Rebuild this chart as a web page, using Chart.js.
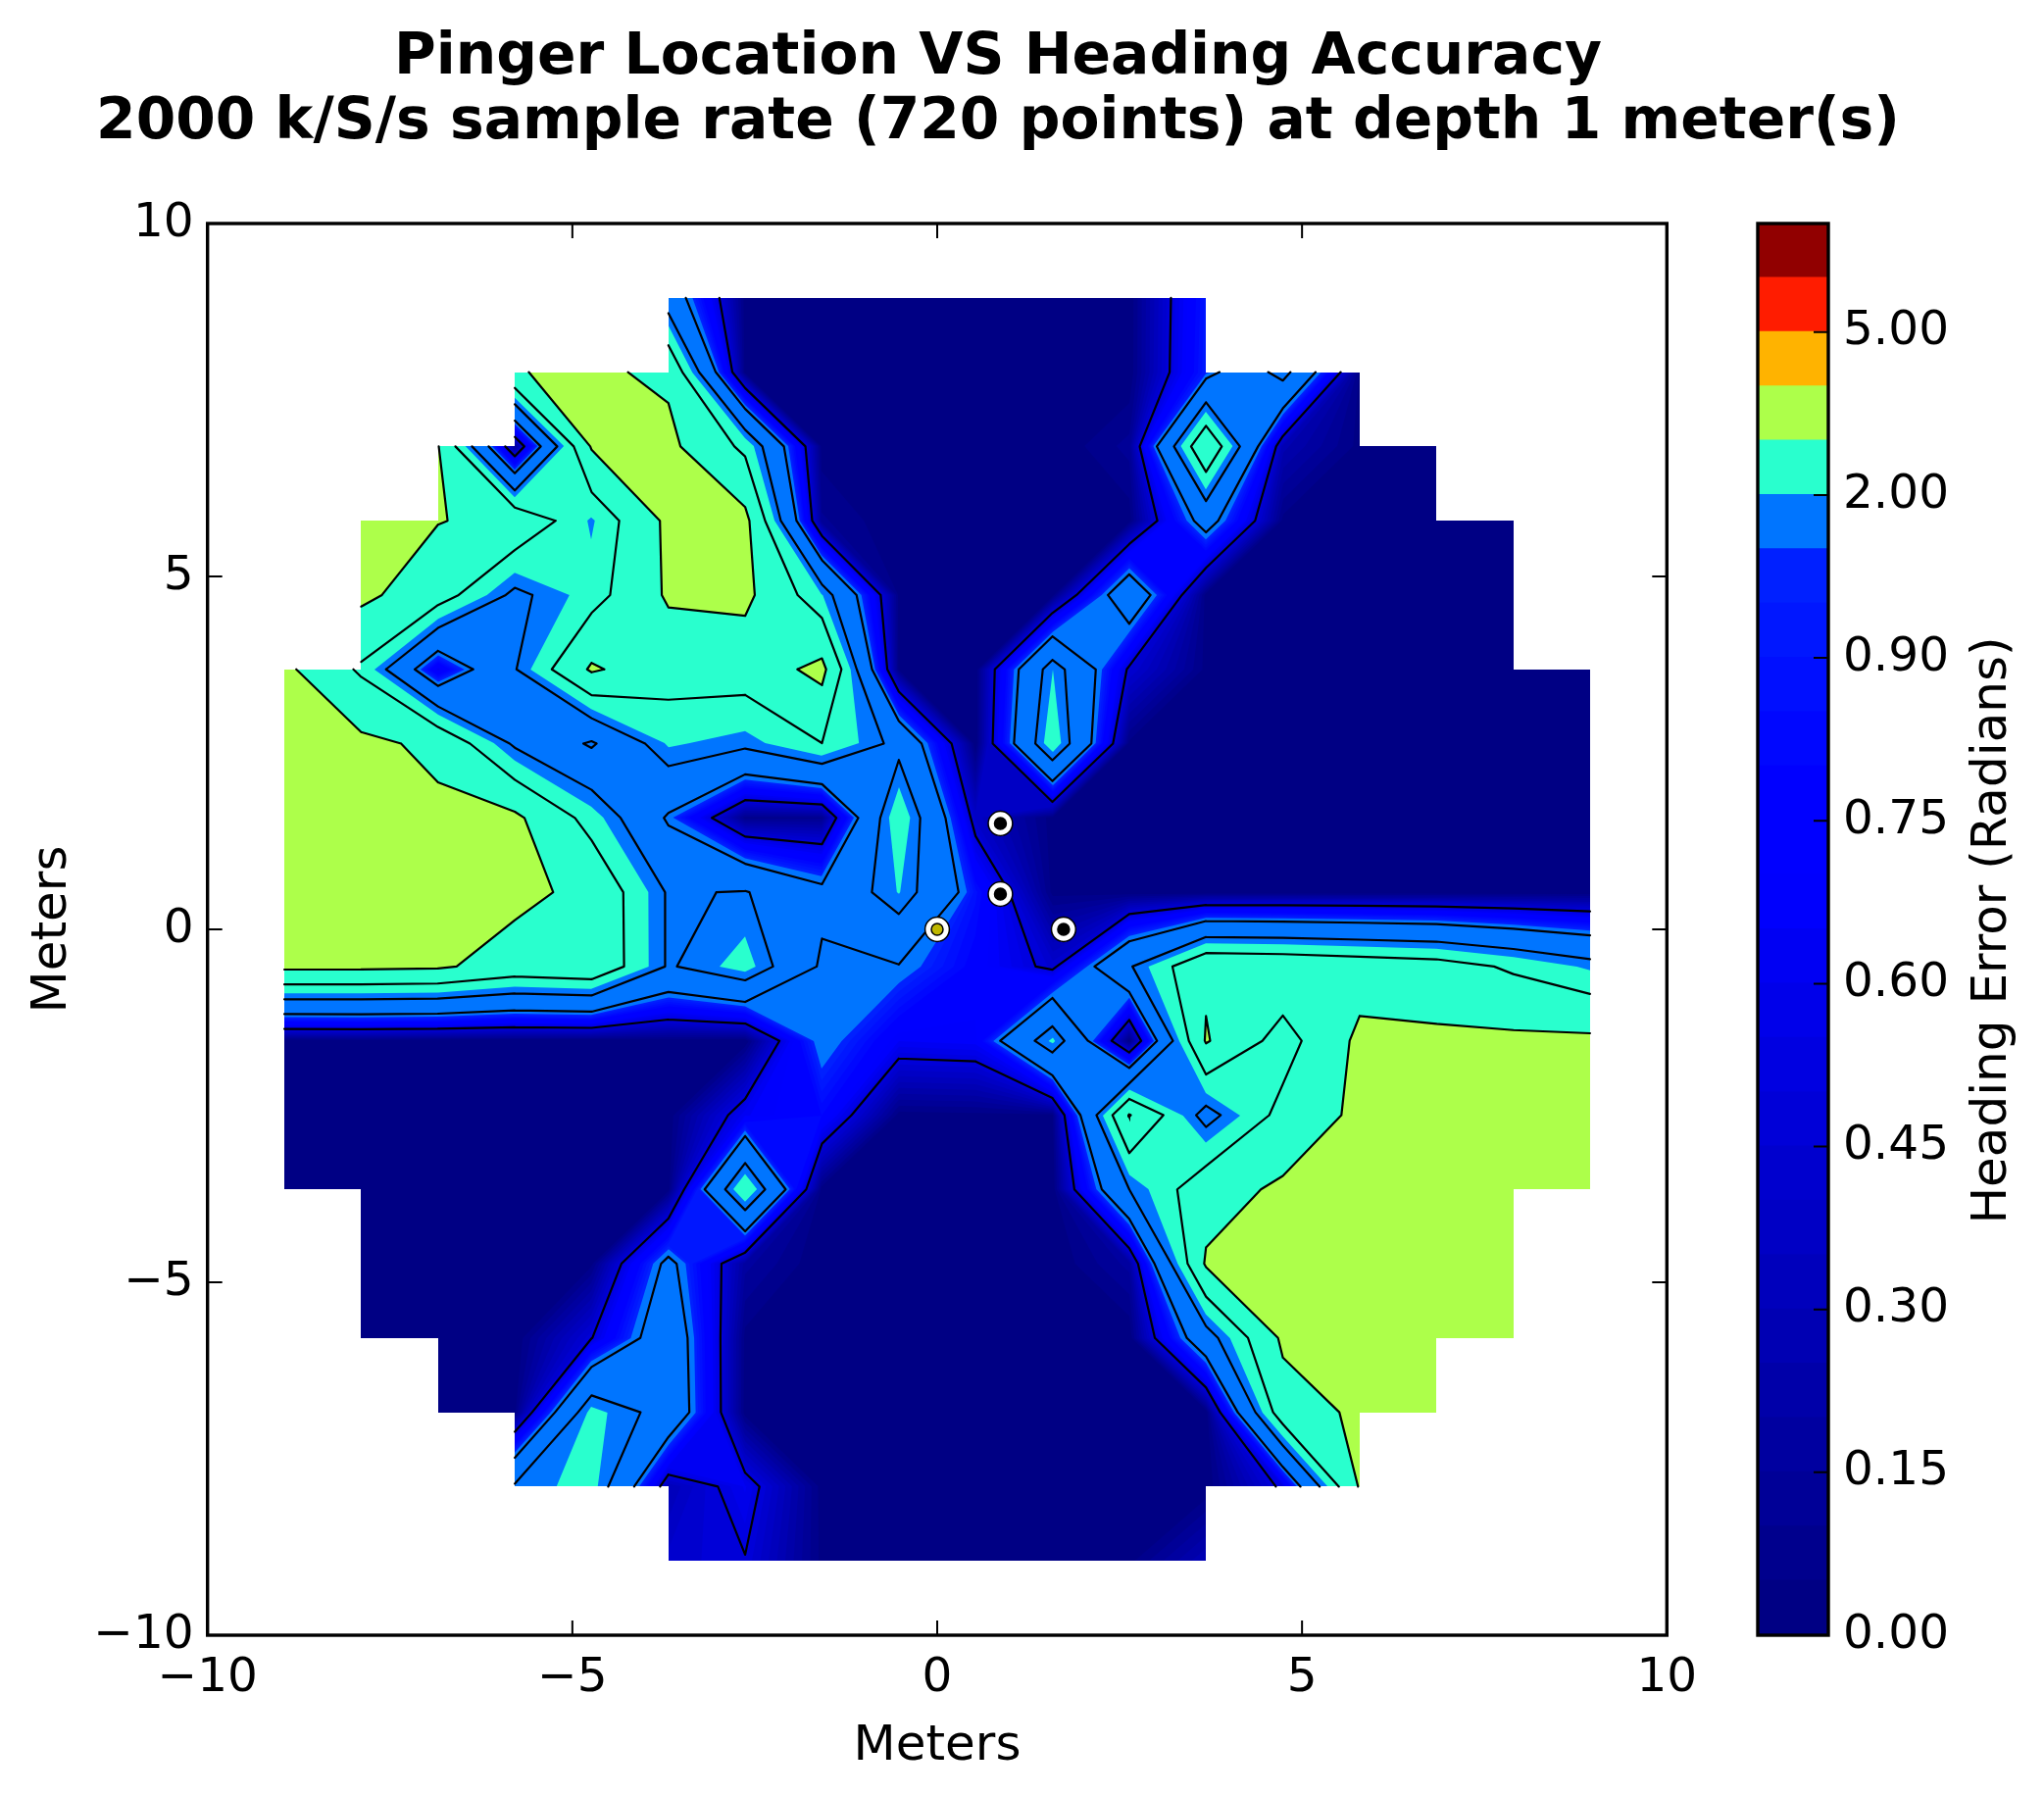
<!DOCTYPE html>
<html>
<head>
<meta charset="utf-8">
<title>Pinger Location VS Heading Accuracy</title>
<script src="https://cdn.jsdelivr.net/npm/chart.js@4"></script>
<style>
    html, body { margin: 0; padding: 0; background: #fff; }
    canvas { position: absolute; top: 0; }
    #field { left: 0; }
    #colorbar { left: 1700px; }
</style>
</head>
<body>
<canvas id="field" width="2036" height="1831"></canvas>
<canvas id="colorbar" width="385" height="1831"></canvas>
<script>
"use strict"

/* Grid, in meters */
const gridX = [-8.947, -7.895, -6.842, -5.789, -4.737, -3.684, -2.632, -1.579, -0.526,
    0.526, 1.579, 2.632, 3.684, 4.737, 5.789, 6.842, 7.895, 8.947];
const gridY = [8.947, 7.895, 6.842, 5.789, 4.737, 3.684, 2.632, 1.579, 0.526,
    -0.526, -1.579, -2.632, -3.684, -4.737, -5.789, -6.842, -7.895, -8.947];

/* Heading error in radians, one row per gridY, null outside the circle */
const n = null;
const row00 = [n, n, n, n, n, 1.45, .02, 0, 0, 0, 0, 0, .92, n, n, n, n, n];
const row01 = [n, n, n, 2.98, 3.09, 2.9, .02, 0, 0, 0, 0, 0, .95, 1.94, .03, n, n, n];
const row02 = [n, n, 3.03, .14, 3.05, 3.14, 2.25, .02, 0, 0, 0, .12, 2.92, .27, .03, 0, n, n];
const row03 = [n, 3.08, 3.02, 2.86, 1.95, 3.13, 3.17, .11, 0, 0, .02, .02, 1.33, .03, 0, 0, 0, n];
const row04 = [n, 3.13, 2.65, 1.63, 2.15, 3.08, 3.14, 2.02, .03, 0, .02, 1.55, .02, 0, 0, 0, 0, n];
const row05 = [3.13, 2.29, .62, 1.72, 3.08, 2.6, 2.64, 3.17, .03, 0, 2.0, .45, .03, 0, 0, 0, 0, 0];
const row06 = [3.14, 3.13, 2.88, 1.67, 1.06, 2.05, 1.87, 2.37, 1.6, 0, 2.25, .03, 0, 0, 0, 0, 0, 0];
const row07 = [3.14, 3.14, 3.11, 3.12, 2.17, 1.06, .07, .09, 2.28, .38, .02, 0, 0, 0, 0, 0, 0, 0];
const row08 = [3.14, 3.14, 3.14, 3.15, 2.85, 1.7, 1.78, 1.25, 2.02, .87, .03, 0, 0, 0, 0, 0, 0, 0];
const row09 = [3.13, 3.12, 3.08, 2.75, 2.87, 1.7, 2.15, 1.05, 1.1, .75, .43, 1.7, 2.9, 2.85, 2.74, 2.63, 2.29, 1.94];
const row10 = [0, .02, 0, 0, 0, .02, 0, 1.12, .65, .68, 2.07, .03, 3.05, 2.13, 3.13, 3.11, 3.12, 3.12];
const row11 = [0, 0, 0, 0, 0, .01, .64, .8, .02, .03, .03, 3.03, 1.56, 2.55, 3.14, 3.14, 3.14, 3.14];
const row12 = [0, 0, 0, 0, 0, .02, 2.36, .02, 0, 0, 0, 1.75, 2.75, 3.1, 3.13, 3.13, 3.13, 3.13];
const row13 = [n, 0, 0, 0, .03, 1.24, .17, 0, 0, 0, 0, .17, 3.07, 3.15, 3.14, 3.14, 3.14, n];
const row14 = [n, 0, 0, 0, .49, 1.49, .03, 0, 0, 0, 0, 0, 1.5, 3.1, 3.14, 3.14, 3.14, n];
const row15 = [n, n, 0, .03, 2.12, 1.54, .02, 0, 0, 0, 0, 0, 0, 2.72, 3.1, 3.13, n, n];
const row16 = [n, n, n, 1.82, 2.15, .3, .61, .02, 0, 0, 0, 0, 0, .55, 3.05, n, n, n];
const row17 = [n, n, n, n, n, .42, .49, .03, 0, 0, 0, .03, .3, n, n, n, n, n];
const headingError = [row00, row01, row02, row03, row04, row05, row06, row07, row08,
    row09, row10, row11, row12, row13, row14, row15, row16, row17];

/* Filled levels and the black contour levels */
const fillLevels = [0, .05, .1, .15, .2, .25, .3, .35, .4, .45, .5, .55, .6, .65, .7, .75, .8, .85, .9, .95, 1,
    2, 3, 4, 5, 6, 7];
const lineLevels = [.5, 1.125, 1.75, 2.375, 3];

/* Pinger and hydrophone markers */
const markerX = [0, .866, .866, 1.732];
const markerY = [0, .5, 1.5, 0];

/* Colorbar ticks, given as positions in fillLevels */
const colorbarTicks = [0, 3, 6, 9, 12, 15, 18, 21, 24];
const colorbarLabels = ["0.00", "0.15", "0.30", "0.45", "0.60", "0.75", "0.90", "2.00", "5.00"];

const fontFamily = "DejaVu Sans";
const plotLeft = 211.7, plotRight = 1700.3, plotTop = 228, plotBottom = 1668;


function jetChannel(points, v) {
    for (let i = 1; i < points.length; i++) {
        if (v <= points[i][0]) {
            let a = points[i - 1], b = points[i];
            return a[1] + (b[1] - a[1]) * (v - a[0]) / (b[0] - a[0]);
        }
    }
    return points[points.length - 1][1];
}

function jet(v) {
    let r = jetChannel([[0, 0], [.35, 0], [.66, 1], [.89, 1], [1, .5]], v);
    let g = jetChannel([[0, 0], [.125, 0], [.375, 1], [.64, 1], [.91, 0], [1, 0]], v);
    let b = jetChannel([[0, .5], [.11, 1], [.34, 1], [.65, 0], [1, 0]], v);
    return `rgb(${Math.round(r * 255)},${Math.round(g * 255)},${Math.round(b * 255)})`;
}

let bandColors = [];
for (let i = 0; i < fillLevels.length - 1; i++) {
    let middle = (fillLevels[i] + fillLevels[i + 1]) / 2;
    bandColors.push(jet(Math.min(middle / 6.25, .985)));
}


function cellCorners(r, c) {
    let corners = [
        { x: gridX[c], y: gridY[r], v: headingError[r][c] },
        { x: gridX[c + 1], y: gridY[r], v: headingError[r][c + 1] },
        { x: gridX[c + 1], y: gridY[r + 1], v: headingError[r + 1][c + 1] },
        { x: gridX[c], y: gridY[r + 1], v: headingError[r + 1][c] },
    ];
    return corners.some(p => p.v === null) ? null : corners;
}

function crossing(a, b, level) {
    let t = (level - a.v) / (b.v - a.v);
    return { x: a.x + (b.x - a.x) * t, y: a.y + (b.y - a.y) * t };
}

function isSaddle(corners, level) {
    let high = corners.map(p => p.v >= level);
    return high[0] === high[2] && high[1] === high[3] && high[0] !== high[1];
}

function cellCentre(corners) {
    return (corners[0].v + corners[1].v + corners[2].v + corners[3].v) / 4;
}

/* The parts of a cell at or above a level: two pieces when a saddle has a low centre */
function clipCell(corners, level) {
    if (isSaddle(corners, level) && cellCentre(corners) < level) {
        let first = corners[0].v >= level ? 0 : 1;
        return [first, first + 2].map(i => {
            let p = corners[i], next = corners[(i + 1) % 4], prev = corners[(i + 3) % 4];
            return [p, crossing(p, next, level), crossing(prev, p, level)];
        });
    }
    let out = [];
    corners.forEach((a, i) => {
        let b = corners[(i + 1) % 4];
        if (a.v >= level) out.push(a);
        if ((a.v >= level) !== (b.v >= level)) out.push(crossing(a, b, level));
    });
    return out.length > 2 ? [out] : [];
}

/* Marching squares: the contour of one level as points with gaps between the pieces */
function contourPoints(level) {
    let points = [];
    const gap = { x: NaN, y: NaN };
    for (let r = 0; r < gridY.length - 1; r++) {
        for (let c = 0; c < gridX.length - 1; c++) {
            let corners = cellCorners(r, c);
            if (!corners) continue;
            let hits = [];
            corners.forEach((a, i) => {
                let b = corners[(i + 1) % 4];
                if ((a.v >= level) !== (b.v >= level)) hits.push(crossing(a, b, level));
            });
            if (hits.length === 2) {
                points.push(hits[0], hits[1], gap);
            } else if (hits.length === 4) {
                let sameAsFirst = (cellCentre(corners) >= level) === (corners[0].v >= level);
                let s = sameAsFirst ? 0 : 1;
                points.push(hits[s], hits[(s + 1) % 4], gap);
                points.push(hits[(s + 2) % 4], hits[(s + 3) % 4], gap);
            }
        }
    }
    return points;
}


const contourFill = {
    id: "contourFill",
    beforeDatasetsDraw(chart) {
        const ctx = chart.ctx, xs = chart.scales.x, ys = chart.scales.y;
        // cell edges sit on whole pixels so the stacked bands leave no fringe at the mask
        const pixelX = v => gridX.includes(v) ? Math.round(xs.getPixelForValue(v)) : xs.getPixelForValue(v);
        const pixelY = v => gridY.includes(v) ? Math.round(ys.getPixelForValue(v)) : ys.getPixelForValue(v);
        ctx.save();
        bandColors.forEach((color, k) => {
            ctx.beginPath();
            for (let r = 0; r < gridY.length - 1; r++) {
                for (let c = 0; c < gridX.length - 1; c++) {
                    let corners = cellCorners(r, c);
                    if (!corners) continue;
                    clipCell(corners, fillLevels[k]).forEach(poly => {
                        poly.forEach((p, i) => {
                            if (i === 0) ctx.moveTo(pixelX(p.x), pixelY(p.y));
                            else ctx.lineTo(pixelX(p.x), pixelY(p.y));
                        });
                        ctx.closePath();
                    });
                }
            }
            ctx.fillStyle = color;
            ctx.fill();
        });
        ctx.restore();
    }
};

const fieldFrame = {
    id: "fieldFrame",
    afterDatasetsDraw(chart) {
        const ctx = chart.ctx, area = chart.chartArea;
        ctx.save();
        ctx.strokeStyle = "#000";
        ctx.lineWidth = 2;
        ctx.beginPath();
        chart.scales.x.ticks.forEach(t => {
            let px = chart.scales.x.getPixelForValue(t.value);
            ctx.moveTo(px, area.top); ctx.lineTo(px, area.top + 15);
            ctx.moveTo(px, area.bottom); ctx.lineTo(px, area.bottom - 15);
        });
        chart.scales.y.ticks.forEach(t => {
            let py = chart.scales.y.getPixelForValue(t.value);
            ctx.moveTo(area.left, py); ctx.lineTo(area.left + 15, py);
            ctx.moveTo(area.right, py); ctx.lineTo(area.right - 15, py);
        });
        ctx.stroke();
        ctx.lineWidth = 3.4;
        ctx.strokeRect(area.left, area.top, area.right - area.left, area.bottom - area.top);
        ctx.restore();
    }
};

const colorbarFrame = {
    id: "colorbarFrame",
    afterDraw(chart) {
        const ctx = chart.ctx, area = chart.chartArea, ys = chart.scales.y;
        ctx.save();
        ctx.strokeStyle = "#000";
        ctx.lineWidth = 2;
        ctx.beginPath();
        colorbarTicks.forEach(t => {
            if (t === 0) return;
            ctx.moveTo(area.right, ys.getPixelForValue(t));
            ctx.lineTo(area.right - 15, ys.getPixelForValue(t));
        });
        ctx.stroke();
        ctx.lineWidth = 3.4;
        ctx.strokeRect(area.left, area.top, area.right - area.left, area.bottom - area.top);
        ctx.translate(333, (area.top + area.bottom) / 2 + 1);
        ctx.rotate(-Math.PI / 2);
        ctx.fillStyle = "#000";
        ctx.font = `50px "${fontFamily}"`;
        ctx.textAlign = "center";
        ctx.textBaseline = "middle";
        ctx.fillText("Heading Error (Radians)", 0, 0);
        ctx.restore();
    }
};


function tickText(value) {
    return value < 0 ? "\u2212" + Math.abs(value) : "" + value;
}

let datasets = [];
datasets.push({
    data: markerX.map((x, i) => ({ x: x, y: markerY[i] })),
    order: 0,
    showLine: false,
    pointRadius: 6,
    pointBorderWidth: 1.5,
    pointBorderColor: "#000",
    pointBackgroundColor: ctx => ctx.dataIndex === 0 ? "#bfb700" : "#000",
});
datasets.push({
    data: markerX.map((x, i) => ({ x: x, y: markerY[i] })),
    order: 1,
    showLine: false,
    pointRadius: 12.4,
    pointBorderWidth: 1.5,
    pointBorderColor: "#000",
    pointBackgroundColor: "#fff",
});
lineLevels.forEach(level => {
    datasets.push({
        data: contourPoints(level),
        order: 2,
        showLine: true,
        spanGaps: false,
        pointRadius: 0,
        borderColor: "#000",
        borderWidth: 2.2,
        borderCapStyle: "round",
    });
});

new Chart(document.getElementById("field"), {
    type: "scatter",
    data: { datasets: datasets },
    options: {
        responsive: false,
        animation: false,
        devicePixelRatio: 1,
        events: [],
        layout: { padding: 0 },
        scales: {
            x: {
                type: "linear",
                min: -10,
                max: 10,
                grid: { display: false },
                border: { display: false },
                afterFit: axis => { axis.height = 1831 - plotBottom; },
                ticks: {
                    stepSize: 5,
                    maxRotation: 0,
                    padding: 7,
                    color: "#000",
                    font: { family: fontFamily, size: 48.5 },
                    callback: tickText,
                },
                title: {
                    display: true,
                    text: "Meters",
                    color: "#000",
                    font: { family: fontFamily, size: 50 },
                    padding: { top: 0, bottom: 19 },
                },
            },
            y: {
                type: "linear",
                min: -10,
                max: 10,
                grid: { display: false },
                border: { display: false },
                afterFit: axis => { axis.width = plotLeft; },
                ticks: {
                    stepSize: 5,
                    padding: 6,
                    color: "#000",
                    font: { family: fontFamily, size: 48.5 },
                    callback: tickText,
                },
                title: {
                    display: true,
                    text: "Meters",
                    color: "#000",
                    font: { family: fontFamily, size: 50 },
                    padding: { top: 24, bottom: 0 },
                },
            },
            y2: {
                type: "linear",
                position: "right",
                grid: { display: false },
                border: { display: false },
                ticks: { display: false },
                afterFit: axis => { axis.width = 2036 - plotRight; },
            },
        },
        plugins: {
            legend: { display: false },
            tooltip: { enabled: false },
            title: {
                display: true,
                text: ["Pinger Location VS Heading Accuracy", "2000 k/S/s sample rate (720 points) at depth 1 meter(s)"],
                color: "#000",
                font: { family: fontFamily, size: 58.3, weight: "bold", lineHeight: 65.7 / 58.3 },
                padding: { top: 27, bottom: plotTop - 27 - 131.4 },
            },
        },
    },
    plugins: [contourFill, fieldFrame],
});

new Chart(document.getElementById("colorbar"), {
    type: "bar",
    data: {
        labels: [""],
        datasets: bandColors.map(color => ({
            data: [1],
            backgroundColor: color,
            borderWidth: 0,
            inflateAmount: 1,
            barPercentage: 1,
            categoryPercentage: 1,
        })),
    },
    options: {
        responsive: false,
        animation: false,
        devicePixelRatio: 1,
        events: [],
        layout: { padding: { left: 93, top: plotTop, bottom: 1831 - plotBottom, right: 0 } },
        scales: {
            x: { stacked: true, display: false },
            y: {
                stacked: true,
                position: "right",
                min: 0,
                max: bandColors.length,
                grid: { display: false },
                border: { display: false },
                afterFit: axis => { axis.width = 220; },
                afterBuildTicks: axis => { axis.ticks = colorbarTicks.map(t => ({ value: t })); },
                ticks: {
                    autoSkip: false,
                    padding: 7,
                    color: "#000",
                    font: { family: fontFamily, size: 48.5 },
                    callback: (value, index) => colorbarLabels[index],
                },
            },
        },
        plugins: {
            legend: { display: false },
            tooltip: { enabled: false },
        },
    },
    plugins: [colorbarFrame],
});
</script>
</body>
</html>
